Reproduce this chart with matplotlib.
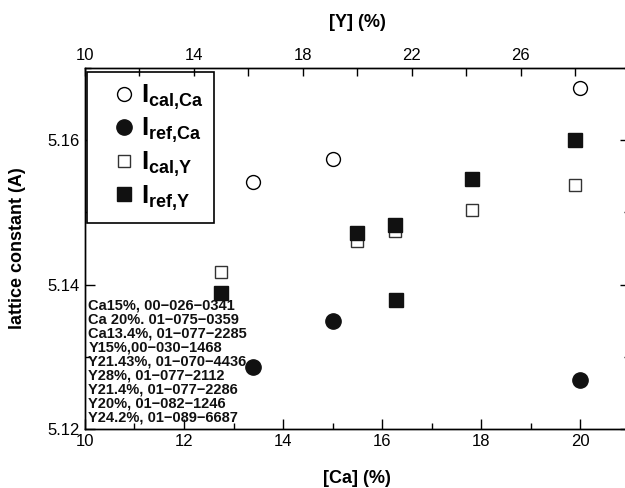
import matplotlib
matplotlib.use("Agg")
import matplotlib.pyplot as plt
from matplotlib.ticker import MultipleLocator

plt.rcParams['font.family'] = ['Liberation Sans', 'DejaVu Sans']
plt.rcParams['mathtext.fontset'] = 'custom'
plt.rcParams['mathtext.rm'] = 'Liberation Sans'
plt.rcParams['mathtext.bf'] = 'Liberation Sans:bold'

# Ca-doped samples (bottom axis, [Ca] %)
ca_conc = [13.4, 15, 20]
ca_cal = [5.1542, 5.1574, 5.1672]
ca_ref = [5.1286, 5.1350, 5.1268]

# Y-doped samples (top axis, [Y] %)
y_cal_conc = [15, 20, 21.4, 24.2, 28]
y_cal = [5.1417, 5.1461, 5.1474, 5.1503, 5.1538]
y_ref_conc = [15, 20, 21.4, 21.43, 24.2, 28]
y_ref = [5.1389, 5.1472, 5.1482, 5.1378, 5.1546, 5.1600]

y_top_ticks = [10, 14, 18, 22, 26]

pdf_cards = [
    "Ca15%, 00\u2212026\u22120341",
    "Ca 20%. 01\u2212075\u22120359",
    "Ca13.4%, 01\u2212077\u22122285",
    "Y15%,00\u2212030\u22121468",
    "Y21.43%, 01\u2212070\u22124436",
    "Y28%, 01\u2212077\u22122112",
    "Y21.4%, 01\u2212077\u22122286",
    "Y20%, 01\u2212082\u22121246",
    "Y24.2%, 01\u2212089\u22126687",
]

fig = plt.figure(figsize=(6.25, 4.88), dpi=100)
ax = fig.add_axes([0.136, 0.1209, 0.8712, 0.7398])
ax2 = ax.twiny()

h1, = ax.plot(ca_conc, ca_cal, 'o', ms=10, mfc='white', mec='black', mew=1.0,
              label=r'$\mathbf{I_{cal{,}Ca}}$')
h2, = ax.plot(ca_conc, ca_ref, 'o', ms=11, mfc='#111111', mec='#111111',
              label=r'$\mathbf{I_{ref{,}Ca}}$')
h3, = ax2.plot(y_cal_conc, y_cal, 's', ms=9, mfc='white', mec='#333333', mew=1.0,
               label=r'$\mathbf{I_{cal{,}Y}}$')
h4, = ax2.plot(y_ref_conc, y_ref, 's', ms=9.5, mfc='#111111', mec='#111111',
               label=r'$\mathbf{I_{ref{,}Y}}$')

ax.set_xlim(10, 21)
ax.set_ylim(5.12, 5.170)
ax2.set_xlim(10, 30)

ax.xaxis.set_major_locator(MultipleLocator(2))
ax.xaxis.set_minor_locator(MultipleLocator(1))
ax.yaxis.set_major_locator(MultipleLocator(0.02))
ax.yaxis.set_minor_locator(MultipleLocator(0.01))
ax.yaxis.set_major_formatter(plt.FormatStrFormatter('%.2f'))
ax2.set_xticks(y_top_ticks)
ax2.xaxis.set_minor_locator(MultipleLocator(2))

ax.tick_params(which='both', direction='in', right=True, labelsize=12, width=1.0)
ax.tick_params(which='major', length=7)
ax.tick_params(which='minor', length=4.5)
ax2.tick_params(which='both', direction='in', labelsize=12, width=1.0, length=5.5)

for a in (ax, ax2):
    for s in a.spines.values():
        s.set_linewidth(1.0)

ax.set_xlabel('[Ca] (%)', fontsize=13, fontweight='bold', labelpad=15)
ax.set_ylabel('lattice constant (A)', fontsize=13, fontweight='bold', labelpad=16)
ax2.set_xlabel('[Y] (%)', fontsize=13, fontweight='bold', labelpad=15)

leg = ax.legend(handles=[h1, h2, h3, h4], loc='upper left',
                bbox_to_anchor=(0.004, 0.988), fontsize=18.5, frameon=True,
                fancybox=False, edgecolor='black', framealpha=1,
                handletextpad=-0.4, labelspacing=0.16, borderpad=0.4,
                handlelength=2.1, borderaxespad=0)
leg.get_frame().set_linewidth(1.2)

ax.text(0.006, 0.012, "\n".join(pdf_cards), transform=ax.transAxes,
        ha='left', va='bottom', fontsize=10.5, fontweight='bold',
        linespacing=1.0, color='#111111')

fig.savefig('out.png', dpi=100)
